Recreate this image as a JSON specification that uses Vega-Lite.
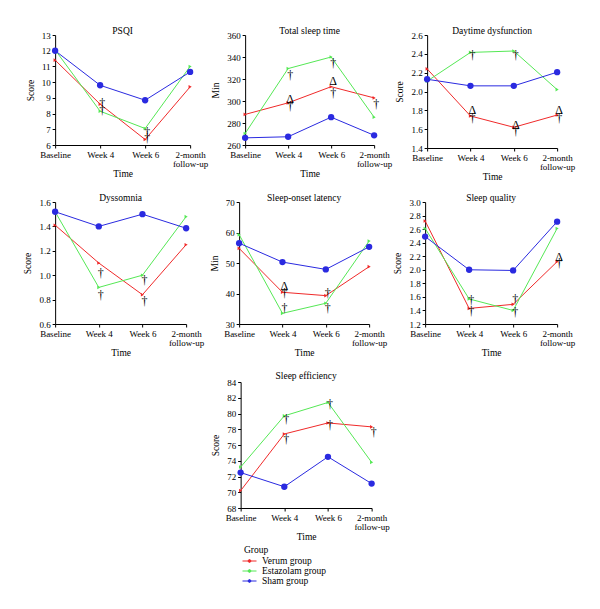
{
  "$schema": "https://vega.github.io/schema/vega-lite/v6.json",
  "padding": {"left": 22, "top": 25, "right": 5, "bottom": 5},
  "background": "white",
  "config": {
    "font": "Liberation Serif",
    "view": {"stroke": null},
    "axis": {"grid": false, "domainColor": "#000", "tickColor": "#000", "labelColor": "#000", "titleColor": "#000", "labelFontSize": 9, "titleFontSize": 9.5, "titleFontWeight": "normal", "tickSize": 3, "domainWidth": 1, "labelPadding": 2},
    "axisX": {"labelAngle": 0, "titlePadding": 0, "labelLineHeight": 9},
    "axisY": {"titlePadding": 6},
    "title": {"fontSize": 9.5, "fontWeight": "normal", "offset": -4, "color": "#000"},
    "legend": {"orient": "none", "legendX": 189, "legendY": 510, "titleFontWeight": "normal", "titleFontSize": 9.5, "labelFontSize": 9.5, "titleColor": "#000", "labelColor": "#000", "rowPadding": 0, "titlePadding": 1, "symbolType": "M-1.4,0H1.4M0,-0.28A0.28,0.28 0 1,1 0,0.28A0.28,0.28 0 1,1 0,-0.28Z", "symbolSize": 100, "symbolStrokeWidth": 1, "labelOffset": 7}
  },
  "datasets": {
    "d": [
      {"m": "PSQI", "t": "Baseline", "g": "Verum group", "v": 11.4},
      {"m": "PSQI", "t": "Week 4", "g": "Verum group", "v": 8.6},
      {"m": "PSQI", "t": "Week 6", "g": "Verum group", "v": 6.35},
      {"m": "PSQI", "t": "2-month follow-up", "g": "Verum group", "v": 9.7},
      {"m": "PSQI", "t": "Baseline", "g": "Estazolam group", "v": 12.05},
      {"m": "PSQI", "t": "Week 4", "g": "Estazolam group", "v": 8.15},
      {"m": "PSQI", "t": "Week 6", "g": "Estazolam group", "v": 7.05},
      {"m": "PSQI", "t": "2-month follow-up", "g": "Estazolam group", "v": 11.0},
      {"m": "PSQI", "t": "Baseline", "g": "Sham group", "v": 12.0},
      {"m": "PSQI", "t": "Week 4", "g": "Sham group", "v": 9.8},
      {"m": "PSQI", "t": "Week 6", "g": "Sham group", "v": 8.85},
      {"m": "PSQI", "t": "2-month follow-up", "g": "Sham group", "v": 10.65},

      {"m": "TST", "t": "Baseline", "g": "Verum group", "v": 287.8},
      {"m": "TST", "t": "Week 4", "g": "Verum group", "v": 298.3},
      {"m": "TST", "t": "Week 6", "g": "Verum group", "v": 313},
      {"m": "TST", "t": "2-month follow-up", "g": "Verum group", "v": 302.8},
      {"m": "TST", "t": "Baseline", "g": "Estazolam group", "v": 270.5},
      {"m": "TST", "t": "Week 4", "g": "Estazolam group", "v": 329.5},
      {"m": "TST", "t": "Week 6", "g": "Estazolam group", "v": 340},
      {"m": "TST", "t": "2-month follow-up", "g": "Estazolam group", "v": 285.3},
      {"m": "TST", "t": "Baseline", "g": "Sham group", "v": 266.5},
      {"m": "TST", "t": "Week 4", "g": "Sham group", "v": 267.5},
      {"m": "TST", "t": "Week 6", "g": "Sham group", "v": 285.3},
      {"m": "TST", "t": "2-month follow-up", "g": "Sham group", "v": 268.8},

      {"m": "DD", "t": "Baseline", "g": "Verum group", "v": 2.24},
      {"m": "DD", "t": "Week 4", "g": "Verum group", "v": 1.74},
      {"m": "DD", "t": "Week 6", "g": "Verum group", "v": 1.62},
      {"m": "DD", "t": "2-month follow-up", "g": "Verum group", "v": 1.75},
      {"m": "DD", "t": "Baseline", "g": "Estazolam group", "v": 2.11},
      {"m": "DD", "t": "Week 4", "g": "Estazolam group", "v": 2.415},
      {"m": "DD", "t": "Week 6", "g": "Estazolam group", "v": 2.43},
      {"m": "DD", "t": "2-month follow-up", "g": "Estazolam group", "v": 2.02},
      {"m": "DD", "t": "Baseline", "g": "Sham group", "v": 2.13},
      {"m": "DD", "t": "Week 4", "g": "Sham group", "v": 2.06},
      {"m": "DD", "t": "Week 6", "g": "Sham group", "v": 2.06},
      {"m": "DD", "t": "2-month follow-up", "g": "Sham group", "v": 2.205},

      {"m": "DYS", "t": "Baseline", "g": "Verum group", "v": 1.41},
      {"m": "DYS", "t": "Week 4", "g": "Verum group", "v": 1.10},
      {"m": "DYS", "t": "Week 6", "g": "Verum group", "v": 0.84},
      {"m": "DYS", "t": "2-month follow-up", "g": "Verum group", "v": 1.25},
      {"m": "DYS", "t": "Baseline", "g": "Estazolam group", "v": 1.52},
      {"m": "DYS", "t": "Week 4", "g": "Estazolam group", "v": 0.90},
      {"m": "DYS", "t": "Week 6", "g": "Estazolam group", "v": 1.00},
      {"m": "DYS", "t": "2-month follow-up", "g": "Estazolam group", "v": 1.48},
      {"m": "DYS", "t": "Baseline", "g": "Sham group", "v": 1.52},
      {"m": "DYS", "t": "Week 4", "g": "Sham group", "v": 1.40},
      {"m": "DYS", "t": "Week 6", "g": "Sham group", "v": 1.50},
      {"m": "DYS", "t": "2-month follow-up", "g": "Sham group", "v": 1.385},

      {"m": "SOL", "t": "Baseline", "g": "Verum group", "v": 54.8},
      {"m": "SOL", "t": "Week 4", "g": "Verum group", "v": 40.4},
      {"m": "SOL", "t": "Week 6", "g": "Verum group", "v": 39.3},
      {"m": "SOL", "t": "2-month follow-up", "g": "Verum group", "v": 48.8},
      {"m": "SOL", "t": "Baseline", "g": "Estazolam group", "v": 59.3},
      {"m": "SOL", "t": "Week 4", "g": "Estazolam group", "v": 33.5},
      {"m": "SOL", "t": "Week 6", "g": "Estazolam group", "v": 36.8},
      {"m": "SOL", "t": "2-month follow-up", "g": "Estazolam group", "v": 57.2},
      {"m": "SOL", "t": "Baseline", "g": "Sham group", "v": 56.5},
      {"m": "SOL", "t": "Week 4", "g": "Sham group", "v": 50.3},
      {"m": "SOL", "t": "Week 6", "g": "Sham group", "v": 47.9},
      {"m": "SOL", "t": "2-month follow-up", "g": "Sham group", "v": 55.3},

      {"m": "SQ", "t": "Baseline", "g": "Verum group", "v": 2.72},
      {"m": "SQ", "t": "Week 4", "g": "Verum group", "v": 1.43},
      {"m": "SQ", "t": "Week 6", "g": "Verum group", "v": 1.49},
      {"m": "SQ", "t": "2-month follow-up", "g": "Verum group", "v": 2.12},
      {"m": "SQ", "t": "Baseline", "g": "Estazolam group", "v": 2.61},
      {"m": "SQ", "t": "Week 4", "g": "Estazolam group", "v": 1.57},
      {"m": "SQ", "t": "Week 6", "g": "Estazolam group", "v": 1.40},
      {"m": "SQ", "t": "2-month follow-up", "g": "Estazolam group", "v": 2.61},
      {"m": "SQ", "t": "Baseline", "g": "Sham group", "v": 2.49},
      {"m": "SQ", "t": "Week 4", "g": "Sham group", "v": 2.00},
      {"m": "SQ", "t": "Week 6", "g": "Sham group", "v": 1.99},
      {"m": "SQ", "t": "2-month follow-up", "g": "Sham group", "v": 2.71},

      {"m": "SE", "t": "Baseline", "g": "Verum group", "v": 70.2},
      {"m": "SE", "t": "Week 4", "g": "Verum group", "v": 77.4},
      {"m": "SE", "t": "Week 6", "g": "Verum group", "v": 78.8},
      {"m": "SE", "t": "2-month follow-up", "g": "Verum group", "v": 78.3},
      {"m": "SE", "t": "Baseline", "g": "Estazolam group", "v": 73.2},
      {"m": "SE", "t": "Week 4", "g": "Estazolam group", "v": 79.7},
      {"m": "SE", "t": "Week 6", "g": "Estazolam group", "v": 81.4},
      {"m": "SE", "t": "2-month follow-up", "g": "Estazolam group", "v": 73.8},
      {"m": "SE", "t": "Baseline", "g": "Sham group", "v": 72.5},
      {"m": "SE", "t": "Week 4", "g": "Sham group", "v": 70.7},
      {"m": "SE", "t": "Week 6", "g": "Sham group", "v": 74.5},
      {"m": "SE", "t": "2-month follow-up", "g": "Sham group", "v": 71.1}
    ],
    "a": [
      {"m": "PSQI", "t": "Week 4", "v": 8.2, "s": "†"},
      {"m": "PSQI", "t": "Week 4", "v": 8.7, "s": "†"},
      {"m": "PSQI", "t": "Week 6", "v": 6.45, "s": "†"},
      {"m": "PSQI", "t": "Week 6", "v": 6.85, "s": "†"},
      {"m": "TST", "t": "Week 4", "v": 324, "s": "†"},
      {"m": "TST", "t": "Week 4", "v": 301.5, "s": "Δ"},
      {"m": "TST", "t": "Week 4", "v": 295.5, "s": "†"},
      {"m": "TST", "t": "Week 6", "v": 334.5, "s": "†"},
      {"m": "TST", "t": "Week 6", "v": 318, "s": "Δ"},
      {"m": "TST", "t": "Week 6", "v": 307.5, "s": "†"},
      {"m": "TST", "t": "2-month follow-up", "v": 297, "s": "†"},
      {"m": "DD", "t": "Week 4", "v": 2.39, "s": "†"},
      {"m": "DD", "t": "Week 4", "v": 1.80, "s": "Δ"},
      {"m": "DD", "t": "Week 4", "v": 1.72, "s": "†"},
      {"m": "DD", "t": "Week 6", "v": 2.39, "s": "†"},
      {"m": "DD", "t": "Week 6", "v": 1.64, "s": "Δ"},
      {"m": "DD", "t": "Week 6", "v": 1.58, "s": "†"},
      {"m": "DD", "t": "2-month follow-up", "v": 1.80, "s": "Δ"},
      {"m": "DD", "t": "2-month follow-up", "v": 1.72, "s": "†"},
      {"m": "DYS", "t": "Week 4", "v": 1.02, "s": "†"},
      {"m": "DYS", "t": "Week 4", "v": 0.84, "s": "†"},
      {"m": "DYS", "t": "Week 6", "v": 0.96, "s": "†"},
      {"m": "DYS", "t": "Week 6", "v": 0.79, "s": "†"},
      {"m": "SOL", "t": "Week 4", "v": 42.3, "s": "Δ"},
      {"m": "SOL", "t": "Week 4", "v": 40.1, "s": "†"},
      {"m": "SOL", "t": "Week 4", "v": 35.4, "s": "†"},
      {"m": "SOL", "t": "Week 6", "v": 40.1, "s": "†"},
      {"m": "SOL", "t": "Week 6", "v": 35.4, "s": "†"},
      {"m": "SQ", "t": "Week 4", "v": 1.56, "s": "†"},
      {"m": "SQ", "t": "Week 4", "v": 1.39, "s": "†"},
      {"m": "SQ", "t": "Week 6", "v": 1.57, "s": "†"},
      {"m": "SQ", "t": "Week 6", "v": 1.37, "s": "†"},
      {"m": "SQ", "t": "2-month follow-up", "v": 2.19, "s": "Δ"},
      {"m": "SQ", "t": "2-month follow-up", "v": 2.10, "s": "†"},
      {"m": "SE", "t": "Week 4", "v": 79.3, "s": "†"},
      {"m": "SE", "t": "Week 4", "v": 76.7, "s": "†"},
      {"m": "SE", "t": "Week 6", "v": 81.2, "s": "†"},
      {"m": "SE", "t": "Week 6", "v": 78.5, "s": "†"},
      {"m": "SE", "t": "2-month follow-up", "v": 77.7, "s": "†"}
    ]
  },
  "center": true,
  "spacing": 13,
  "vconcat": [
    {
      "spacing": 11,
      "center": false,
      "vconcat": [
        {
          "spacing": 2,
          "hconcat": [
            {
              "title": "PSQI", "width": 135, "height": 110,
              "encoding": {
                "x": {"field": "t", "type": "ordinal", "scale": {"type": "point", "domain": ["Baseline", "Week 4", "Week 6", "2-month follow-up"], "padding": 0}, "axis": {"title": "Time", "labelExpr": "datum.value == '2-month follow-up' ? ['2-month', 'follow-up'] : datum.value"}},
                "y": {"field": "v", "type": "quantitative", "scale": {"domain": [6, 13], "nice": false, "zero": false}, "axis": {"title": "Score", "values": [6, 7, 8, 9, 10, 11, 12, 13]}}
              },
              "layer": [
                {"data": {"name": "d"}, "transform": [{"filter": "datum.m == 'PSQI'"}], "mark": {"type": "line", "strokeWidth": 1}, "encoding": {"color": {"field": "g", "type": "nominal", "title": "Group", "scale": {"domain": ["Verum group", "Estazolam group", "Sham group"], "range": ["#f02a2a", "#55e855", "#2a2ae0"]}}}},
                {"data": {"name": "d"}, "transform": [{"filter": "datum.m == 'PSQI'"}], "mark": {"type": "point", "filled": true, "opacity": 1}, "encoding": {"color": {"field": "g", "type": "nominal", "title": "Group"}, "shape": {"condition": {"test": "datum.g == 'Sham group'", "value": "circle"}, "value": "triangle-right"}, "size": {"condition": {"test": "datum.g == 'Sham group'", "value": 40}, "value": 13}}},
                {"data": {"name": "a"}, "transform": [{"filter": "datum.m == 'PSQI'"}], "mark": {"type": "text", "fontSize": 12, "dx": 2, "fill": "#000"}, "encoding": {"text": {"field": "s"}}}
              ]
            },
            {
              "title": "Total sleep time", "width": 129, "height": 110,
              "encoding": {
                "x": {"field": "t", "type": "ordinal", "scale": {"type": "point", "domain": ["Baseline", "Week 4", "Week 6", "2-month follow-up"], "padding": 0}, "axis": {"title": "Time", "labelExpr": "datum.value == '2-month follow-up' ? ['2-month', 'follow-up'] : datum.value"}},
                "y": {"field": "v", "type": "quantitative", "scale": {"domain": [260, 360], "nice": false, "zero": false}, "axis": {"title": "Min", "values": [260, 280, 300, 320, 340, 360]}}
              },
              "layer": [
                {"data": {"name": "d"}, "transform": [{"filter": "datum.m == 'TST'"}], "mark": {"type": "line", "strokeWidth": 1}, "encoding": {"color": {"field": "g", "type": "nominal", "title": "Group"}}},
                {"data": {"name": "d"}, "transform": [{"filter": "datum.m == 'TST'"}], "mark": {"type": "point", "filled": true, "opacity": 1}, "encoding": {"color": {"field": "g", "type": "nominal", "title": "Group"}, "shape": {"condition": {"test": "datum.g == 'Sham group'", "value": "circle"}, "value": "triangle-right"}, "size": {"condition": {"test": "datum.g == 'Sham group'", "value": 40}, "value": 13}}},
                {"data": {"name": "a"}, "transform": [{"filter": "datum.m == 'TST'"}], "mark": {"type": "text", "fontSize": 12, "dx": 2, "fill": "#000"}, "encoding": {"text": {"field": "s"}}}
              ]
            },
            {
              "title": "Daytime dysfunction", "width": 130, "height": 113,
              "encoding": {
                "x": {"field": "t", "type": "ordinal", "scale": {"type": "point", "domain": ["Baseline", "Week 4", "Week 6", "2-month follow-up"], "padding": 0}, "axis": {"title": "Time", "labelExpr": "datum.value == '2-month follow-up' ? ['2-month', 'follow-up'] : datum.value"}},
                "y": {"field": "v", "type": "quantitative", "scale": {"domain": [1.4, 2.6], "nice": false, "zero": false}, "axis": {"title": "Score", "format": ".1f", "values": [1.4, 1.6, 1.8, 2.0, 2.2, 2.4, 2.6]}}
              },
              "layer": [
                {"data": {"name": "d"}, "transform": [{"filter": "datum.m == 'DD'"}], "mark": {"type": "line", "strokeWidth": 1}, "encoding": {"color": {"field": "g", "type": "nominal", "title": "Group"}}},
                {"data": {"name": "d"}, "transform": [{"filter": "datum.m == 'DD'"}], "mark": {"type": "point", "filled": true, "opacity": 1}, "encoding": {"color": {"field": "g", "type": "nominal", "title": "Group"}, "shape": {"condition": {"test": "datum.g == 'Sham group'", "value": "circle"}, "value": "triangle-right"}, "size": {"condition": {"test": "datum.g == 'Sham group'", "value": 40}, "value": 13}}},
                {"data": {"name": "a"}, "transform": [{"filter": "datum.m == 'DD'"}], "mark": {"type": "text", "fontSize": 12, "dx": 2, "fill": "#000"}, "encoding": {"text": {"field": "s"}}}
              ]
            }
          ]
        },
        {
          "spacing": 5,
          "hconcat": [
            {
              "title": "Dyssomnia", "width": 131, "height": 122,
              "encoding": {
                "x": {"field": "t", "type": "ordinal", "scale": {"type": "point", "domain": ["Baseline", "Week 4", "Week 6", "2-month follow-up"], "padding": 0}, "axis": {"title": "Time", "labelExpr": "datum.value == '2-month follow-up' ? ['2-month', 'follow-up'] : datum.value"}},
                "y": {"field": "v", "type": "quantitative", "scale": {"domain": [0.6, 1.6], "nice": false, "zero": false}, "axis": {"title": "Score", "format": ".1f", "values": [0.6, 0.8, 1.0, 1.2, 1.4, 1.6]}}
              },
              "layer": [
                {"data": {"name": "d"}, "transform": [{"filter": "datum.m == 'DYS'"}], "mark": {"type": "line", "strokeWidth": 1}, "encoding": {"color": {"field": "g", "type": "nominal", "title": "Group"}}},
                {"data": {"name": "d"}, "transform": [{"filter": "datum.m == 'DYS'"}], "mark": {"type": "point", "filled": true, "opacity": 1}, "encoding": {"color": {"field": "g", "type": "nominal", "title": "Group"}, "shape": {"condition": {"test": "datum.g == 'Sham group'", "value": "circle"}, "value": "triangle-right"}, "size": {"condition": {"test": "datum.g == 'Sham group'", "value": 40}, "value": 13}}},
                {"data": {"name": "a"}, "transform": [{"filter": "datum.m == 'DYS'"}], "mark": {"type": "text", "fontSize": 12, "dx": 2, "fill": "#000"}, "encoding": {"text": {"field": "s"}}}
              ]
            },
            {
              "title": "Sleep-onset latency", "width": 130, "height": 122,
              "encoding": {
                "x": {"field": "t", "type": "ordinal", "scale": {"type": "point", "domain": ["Baseline", "Week 4", "Week 6", "2-month follow-up"], "padding": 0}, "axis": {"title": "Time", "labelExpr": "datum.value == '2-month follow-up' ? ['2-month', 'follow-up'] : datum.value"}},
                "y": {"field": "v", "type": "quantitative", "scale": {"domain": [30, 70], "nice": false, "zero": false}, "axis": {"title": "Min", "values": [30, 40, 50, 60, 70]}}
              },
              "layer": [
                {"data": {"name": "d"}, "transform": [{"filter": "datum.m == 'SOL'"}], "mark": {"type": "line", "strokeWidth": 1}, "encoding": {"color": {"field": "g", "type": "nominal", "title": "Group"}}},
                {"data": {"name": "d"}, "transform": [{"filter": "datum.m == 'SOL'"}], "mark": {"type": "point", "filled": true, "opacity": 1}, "encoding": {"color": {"field": "g", "type": "nominal", "title": "Group"}, "shape": {"condition": {"test": "datum.g == 'Sham group'", "value": "circle"}, "value": "triangle-right"}, "size": {"condition": {"test": "datum.g == 'Sham group'", "value": 40}, "value": 13}}},
                {"data": {"name": "a"}, "transform": [{"filter": "datum.m == 'SOL'"}], "mark": {"type": "text", "fontSize": 12, "dx": 2, "fill": "#000"}, "encoding": {"text": {"field": "s"}}}
              ]
            },
            {
              "title": "Sleep quality", "width": 132, "height": 122,
              "encoding": {
                "x": {"field": "t", "type": "ordinal", "scale": {"type": "point", "domain": ["Baseline", "Week 4", "Week 6", "2-month follow-up"], "padding": 0}, "axis": {"title": "Time", "labelExpr": "datum.value == '2-month follow-up' ? ['2-month', 'follow-up'] : datum.value"}},
                "y": {"field": "v", "type": "quantitative", "scale": {"domain": [1.2, 3.0], "nice": false, "zero": false}, "axis": {"title": "Score", "format": ".1f", "values": [1.2, 1.4, 1.6, 1.8, 2.0, 2.2, 2.4, 2.6, 2.8, 3.0]}}
              },
              "layer": [
                {"data": {"name": "d"}, "transform": [{"filter": "datum.m == 'SQ'"}], "mark": {"type": "line", "strokeWidth": 1}, "encoding": {"color": {"field": "g", "type": "nominal", "title": "Group"}}},
                {"data": {"name": "d"}, "transform": [{"filter": "datum.m == 'SQ'"}], "mark": {"type": "point", "filled": true, "opacity": 1}, "encoding": {"color": {"field": "g", "type": "nominal", "title": "Group"}, "shape": {"condition": {"test": "datum.g == 'Sham group'", "value": "circle"}, "value": "triangle-right"}, "size": {"condition": {"test": "datum.g == 'Sham group'", "value": 40}, "value": 13}}},
                {"data": {"name": "a"}, "transform": [{"filter": "datum.m == 'SQ'"}], "mark": {"type": "text", "fontSize": 12, "dx": 2, "fill": "#000"}, "encoding": {"text": {"field": "s"}}}
              ]
            }
          ]
        }
      ]
    },
    {
      "title": {"text": "Sleep efficiency", "offset": -2}, "width": 131, "height": 126,
      "encoding": {
        "x": {"field": "t", "type": "ordinal", "scale": {"type": "point", "domain": ["Baseline", "Week 4", "Week 6", "2-month follow-up"], "padding": 0}, "axis": {"title": "Time", "labelExpr": "datum.value == '2-month follow-up' ? ['2-month', 'follow-up'] : datum.value"}},
        "y": {"field": "v", "type": "quantitative", "scale": {"domain": [68, 84], "nice": false, "zero": false}, "axis": {"title": "Score", "values": [68, 70, 72, 74, 76, 78, 80, 82, 84]}}
      },
      "layer": [
        {"data": {"name": "d"}, "transform": [{"filter": "datum.m == 'SE'"}], "mark": {"type": "line", "strokeWidth": 1}, "encoding": {"color": {"field": "g", "type": "nominal", "title": "Group"}}},
        {"data": {"name": "d"}, "transform": [{"filter": "datum.m == 'SE'"}], "mark": {"type": "point", "filled": true, "opacity": 1}, "encoding": {"color": {"field": "g", "type": "nominal", "title": "Group"}, "shape": {"condition": {"test": "datum.g == 'Sham group'", "value": "circle"}, "value": "triangle-right"}, "size": {"condition": {"test": "datum.g == 'Sham group'", "value": 40}, "value": 13}}},
        {"data": {"name": "a"}, "transform": [{"filter": "datum.m == 'SE'"}], "mark": {"type": "text", "fontSize": 12, "dx": 2, "fill": "#000"}, "encoding": {"text": {"field": "s"}}}
      ]
    }
  ]
}
